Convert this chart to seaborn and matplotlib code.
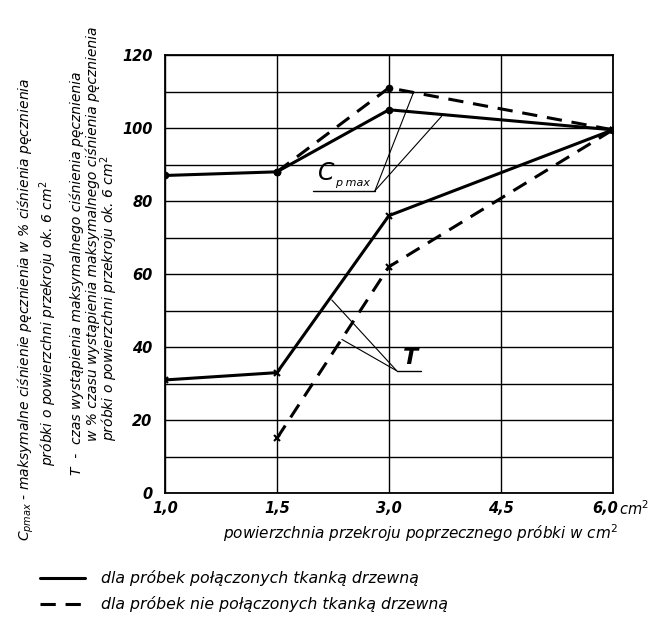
import matplotlib
matplotlib.use("Agg")
import matplotlib.pyplot as plt
import matplotlib.transforms as mtransforms
import seaborn as sns
import pandas as pd
from matplotlib.ticker import MultipleLocator

# ---- data ----
area_categories = [1.0, 1.5, 3.0, 4.5, 6.0]
x_tick_labels = ["1,0", "1,5", "3,0", "4,5", "6,0"]
y_ticks = [0, 20, 40, 60, 80, 100, 120]

cp_joined_x = [1.0, 1.5, 3.0, 6.0]
cp_joined = [87, 88, 105, 99.5]
cp_sep_x = [1.5, 3.0, 6.0]
cp_sep = [88, 111, 99.5]
t_joined_x = [1.0, 1.5, 3.0, 6.0]
t_joined = [31, 33, 76, 99.5]
t_sep_x = [1.5, 3.0, 6.0]
t_sep = [15, 62, 99.5]

legend_labels = ["dla próbek połączonych tkanką drzewną",
                 "dla próbek nie połączonych tkanką drzewną"]

sns.set_theme(style="white")
plt.rcParams['font.family'] = ['DejaVu Sans']
plt.rcParams['mathtext.fontset'] = 'dejavusans'
for k in ['text.color', 'axes.labelcolor', 'xtick.color', 'ytick.color']:
    plt.rcParams[k] = 'black'

pos = {a: i for i, a in enumerate(area_categories)}

def frame(xs, ys, name):
    return pd.DataFrame({"x": [pos[a] for a in xs], "y": ys, "s": name})

fig = plt.figure(figsize=(6.52, 6.25), dpi=100)
ax = fig.add_axes([0.253, 0.211, 0.687, 0.701])

series = [
    (frame(cp_joined_x, cp_joined, "cpj"), "-", "o", 4),
    (frame(cp_sep_x, cp_sep, "cps"), (0, (5, 3.2)), "o", 4),
    (frame(t_joined_x, t_joined, "tj"), "-", "x", 5),
    (frame(t_sep_x, t_sep, "ts"), (0, (5, 3.2)), "x", 5),
]
for df, ls, mk, ms in series:
    sns.lineplot(data=df, x="x", y="y", ax=ax, color="black", linewidth=2.2,
                 linestyle=ls, marker=mk, markersize=ms, markeredgewidth=1.5,
                 markeredgecolor="black", legend=False, zorder=3)

ax.set_xlim(0, len(area_categories) - 1)
ax.set_ylim(0, 120)
ax.set_xticks(range(len(area_categories)))
ax.set_xticklabels(x_tick_labels)
ax.set_yticks(y_ticks)
ax.yaxis.set_minor_locator(MultipleLocator(10))
ax.grid(True, which="both", color="black", linewidth=1.0)
ax.set_axisbelow(True)
for sp in ax.spines.values():
    sp.set_color("black")
    sp.set_linewidth(1.3)
ax.tick_params(axis="x", which="both", length=0, labelsize=10.5, pad=6)
ax.tick_params(axis="y", which="both", length=0, labelsize=10.5, pad=9)
for lab in ax.get_xticklabels() + ax.get_yticklabels():
    lab.set_fontstyle("italic")
    lab.set_fontweight("bold")
last = ax.get_xticklabels()[-1]
last.set_transform(last.get_transform() +
                   mtransforms.ScaledTranslation(-8 / 100, 0, fig.dpi_scale_trans))
ax.set_xlabel("")
ax.set_ylabel("")
ax.text(1.014, -0.036, "cm$^2$", transform=ax.transAxes, fontsize=10.5,
        style="italic", ha="left", va="center")

# x label
fig.text(0.645, 0.147, "powierzchnia przekroju poprzecznego próbki w cm$^2$",
         fontsize=11, style="italic", ha="center", va="center")

# annotations Cp max
ax.text(1.36, 84.3, r"$\mathit{C}$", fontsize=17, ha="left", va="bottom")
ax.text(1.52, 83.5, "p max", fontsize=8, style="italic", ha="left", va="bottom")
ax.plot([1.32, 1.875], [82.8, 82.8], color="black", lw=1.0)
ax.plot([1.875, 2.22], [82.8, 109.8], color="black", lw=0.8)
ax.plot([1.875, 2.47], [82.8, 103.2], color="black", lw=0.8)

# annotations T
ax.text(2.19, 34.2, "T", fontsize=16, style="italic", fontweight="bold",
        ha="center", va="bottom")
ax.plot([2.07, 2.29], [33.5, 33.5], color="black", lw=1.0)
ax.plot([2.07, 1.49], [33.5, 52.9], color="black", lw=0.8)
ax.plot([2.07, 1.58], [33.5, 42.1], color="black", lw=0.8)

# left rotated description
fs = 10.0
fig.text(0.040, 0.135, r"$C_{pmax}$ - maksymalne ciśnienie pęcznienia w % ciśnienia pęcznienia",
         rotation=90, fontsize=fs, style="italic", ha="center", va="bottom")
fig.text(0.074, 0.255, "próbki o powierzchni przekroju ok. 6 cm$^2$",
         rotation=90, fontsize=fs, style="italic", ha="center", va="bottom")
fig.text(0.117, 0.240, "T  -  czas wystąpienia maksymalnego ciśnienia pęcznienia",
         rotation=90, fontsize=fs, style="italic", ha="center", va="bottom")
fig.text(0.142, 0.295, "w % czasu wystąpienia maksymalnego ciśnienia pęcznienia",
         rotation=90, fontsize=fs, style="italic", ha="center", va="bottom")
fig.text(0.167, 0.295, "próbki o powierzchni przekroju ok. 6 cm$^2$",
         rotation=90, fontsize=fs, style="italic", ha="center", va="bottom")

# legend drawn manually
fig.add_artist(plt.Line2D([0.062, 0.130], [0.075, 0.075], color="black", lw=2.2))
fig.add_artist(plt.Line2D([0.062, 0.130], [0.034, 0.034], color="black", lw=2.2,
                          linestyle=(0, (5, 3.2))))
fig.text(0.155, 0.075, legend_labels[0], fontsize=11.3, style="italic", va="center")
fig.text(0.155, 0.034, legend_labels[1], fontsize=11.3, style="italic", va="center")

fig.savefig("out.png", dpi=100, facecolor="white")
